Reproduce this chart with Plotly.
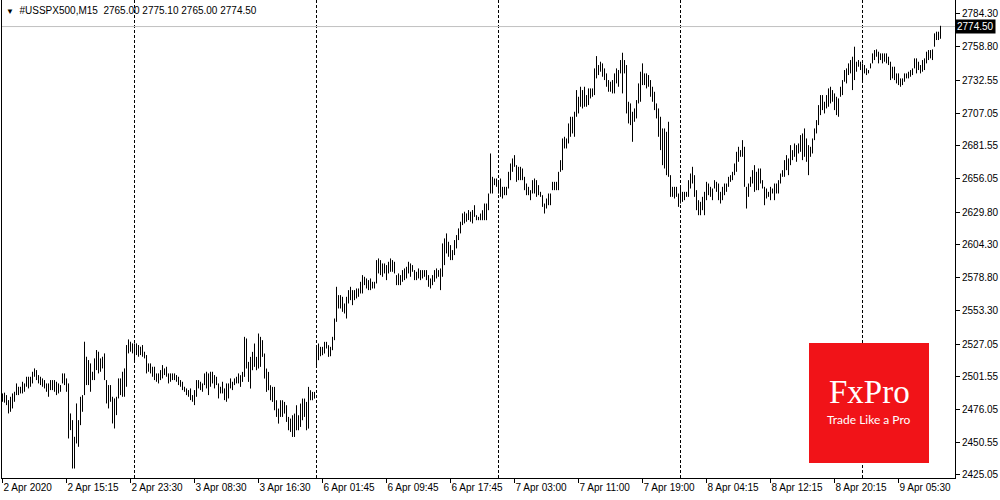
import plotly.graph_objects as go

# ---- data -------------------------------------------------------------
highs = [
    2488.6, 2489.2, 2487.3, 2483.4, 2486.0, 2488.6, 2489.9, 2496.4, 2493.8, 2493.8,
    2497.7, 2496.4, 2501.6, 2501.6, 2501.6, 2505.5, 2508.1, 2506.8, 2502.9, 2501.6,
    2500.3, 2499.0, 2496.4, 2496.4, 2499.0, 2499.0, 2499.0, 2497.7, 2496.4, 2495.1,
    2504.2, 2504.2, 2500.3, 2496.4, 2473.0, 2467.8, 2454.8, 2480.8, 2467.8, 2486.0,
    2487.3, 2528.9, 2517.2, 2514.6, 2512.0, 2505.5, 2515.9, 2522.4, 2521.1, 2515.9,
    2517.2, 2519.8, 2499.0, 2495.1, 2495.1, 2486.0, 2484.7, 2486.0, 2500.3, 2500.3,
    2505.5, 2508.1, 2526.3, 2530.7, 2528.9, 2527.6, 2527.6, 2527.6, 2526.3, 2525.0,
    2526.3, 2521.1, 2518.5, 2512.0, 2512.0, 2509.4, 2509.4, 2504.2, 2504.2, 2506.8,
    2510.7, 2508.1, 2509.4, 2504.2, 2504.2, 2504.2, 2504.2, 2502.9, 2501.6, 2499.0,
    2497.7, 2493.8, 2492.5, 2491.2, 2492.5, 2487.3, 2491.2, 2499.0, 2499.0, 2497.7,
    2496.4, 2504.2, 2505.5, 2504.2, 2505.5, 2505.5, 2502.9, 2501.6, 2496.4, 2493.8,
    2497.7, 2492.5, 2496.4, 2496.4, 2500.3, 2497.7, 2500.3, 2501.6, 2504.2, 2502.8,
    2505.4, 2532.7, 2531.4, 2513.2, 2517.1, 2521.0, 2527.5, 2517.1, 2535.3, 2532.7,
    2530.1, 2519.7, 2508.0, 2505.4, 2495.0, 2493.7, 2493.7, 2483.3, 2476.8, 2483.3,
    2483.3, 2482.0, 2479.4, 2470.3, 2469.0, 2471.6, 2472.9, 2479.4, 2471.6, 2480.7,
    2484.6, 2484.6, 2482.0, 2493.7, 2491.1, 2489.8, 2489.8, 2526.2, 2527.5, 2524.9,
    2524.9, 2528.8, 2528.8, 2526.2, 2524.9, 2532.7, 2547.0, 2571.7, 2565.2, 2565.2,
    2563.9, 2558.7, 2563.9, 2569.1, 2571.7, 2569.1, 2569.1, 2570.4, 2570.4, 2575.6,
    2580.8, 2579.5, 2578.2, 2576.9, 2578.2, 2575.6, 2575.6, 2592.5, 2593.8, 2592.5,
    2589.9, 2589.9, 2588.6, 2591.2, 2593.8, 2592.5, 2591.2, 2580.8, 2582.1, 2580.8,
    2584.7, 2586.0, 2587.3, 2591.2, 2589.9, 2588.6, 2584.7, 2583.4, 2586.0, 2584.7,
    2584.7, 2584.7, 2584.7, 2580.8, 2578.2, 2580.8, 2584.7, 2586.0, 2584.7, 2586.0,
    2605.5, 2609.4, 2613.3, 2606.8, 2604.2, 2600.3, 2608.1, 2612.0, 2617.2, 2622.4,
    2628.9, 2630.2, 2628.9, 2631.5, 2630.2, 2631.5, 2635.3, 2627.5, 2626.2, 2628.8,
    2631.4, 2636.6, 2636.6, 2644.4, 2675.6, 2657.4, 2656.1, 2656.1, 2653.5, 2656.1,
    2649.6, 2649.6, 2649.6, 2661.3, 2667.8, 2671.7, 2674.3, 2666.5, 2665.2, 2665.2,
    2663.9, 2657.4, 2652.2, 2649.6, 2647.0, 2654.8, 2656.1, 2654.8, 2650.9, 2645.7,
    2643.1, 2636.6, 2640.5, 2644.4, 2644.4, 2653.5, 2653.5, 2653.5, 2661.3, 2670.4,
    2687.3, 2688.6, 2687.3, 2699.0, 2704.2, 2704.2, 2708.1, 2725.0, 2719.8, 2727.6,
    2725.0, 2727.6, 2721.1, 2726.3, 2726.3, 2726.3, 2741.9, 2751.5, 2744.5, 2747.1,
    2745.8, 2741.9, 2738.0, 2732.8, 2731.5, 2732.8, 2738.0, 2741.9, 2740.6, 2748.4,
    2754.1, 2748.4, 2744.5, 2715.9, 2714.6, 2708.1, 2710.7, 2717.2, 2730.2, 2739.3,
    2745.8, 2738.0, 2738.0, 2736.7, 2732.8, 2727.6, 2723.7, 2714.6, 2710.7, 2704.2,
    2695.1, 2695.1, 2692.5, 2700.3, 2658.7, 2649.6, 2649.6, 2649.6, 2644.4, 2649.6,
    2645.7, 2645.7, 2645.7, 2654.8, 2660.0, 2665.2, 2658.7, 2647.0, 2639.2, 2637.9,
    2641.8, 2645.7, 2653.5, 2652.2, 2649.6, 2648.3, 2654.8, 2653.5, 2652.2, 2645.7,
    2649.6, 2652.2, 2652.2, 2657.4, 2658.7, 2661.3, 2667.8, 2676.9, 2680.8, 2678.2,
    2686.0, 2680.8, 2649.6, 2652.2, 2657.4, 2662.6, 2666.5, 2661.3, 2663.9, 2663.9,
    2654.8, 2649.6, 2648.3, 2645.7, 2649.6, 2648.3, 2652.2, 2652.2, 2654.8, 2660.0,
    2662.6, 2670.4, 2674.3, 2671.7, 2682.1, 2678.2, 2683.4, 2682.1, 2683.4, 2689.9,
    2691.2, 2695.1, 2687.3, 2682.1, 2680.8, 2687.3, 2695.1, 2701.6, 2713.3, 2721.1,
    2721.1, 2715.9, 2721.1, 2726.3, 2727.6, 2725.0, 2722.4, 2719.8, 2718.5, 2727.6,
    2732.8, 2740.6, 2741.9, 2745.8, 2748.4, 2751.0, 2758.8, 2747.1, 2748.4, 2747.1,
    2745.8, 2744.5, 2741.9, 2740.6, 2745.8, 2753.6, 2756.2, 2756.7, 2754.9, 2753.6,
    2753.6, 2753.6, 2753.6, 2751.0, 2747.1, 2743.2, 2743.2, 2738.0, 2738.0, 2734.1,
    2734.1, 2738.0, 2738.0, 2739.3, 2740.6, 2741.9, 2749.7, 2749.7, 2747.1, 2744.5,
    2748.4, 2749.7, 2754.9, 2756.2, 2756.2, 2756.7, 2769.2, 2770.5, 2770.5, 2775.1,
]

lows = [
    2482.1, 2481.4, 2479.5, 2473.0, 2474.3, 2476.9, 2482.1, 2487.3, 2487.3, 2488.6,
    2488.6, 2489.9, 2493.8, 2492.5, 2493.8, 2496.4, 2501.6, 2499.0, 2496.4, 2495.1,
    2493.8, 2492.5, 2489.9, 2486.0, 2491.2, 2491.2, 2489.9, 2487.3, 2488.6, 2489.9,
    2496.4, 2495.1, 2489.9, 2453.5, 2460.0, 2430.1, 2430.1, 2449.6, 2447.0, 2463.9,
    2474.3, 2487.3, 2495.1, 2495.1, 2489.9, 2499.0, 2499.0, 2506.8, 2504.2, 2505.5,
    2508.1, 2499.0, 2480.8, 2476.9, 2482.1, 2465.2, 2461.3, 2471.7, 2484.7, 2487.3,
    2486.0, 2486.0, 2493.8, 2519.8, 2521.1, 2519.8, 2514.6, 2518.5, 2517.2, 2518.5,
    2517.2, 2515.9, 2504.2, 2505.5, 2504.2, 2501.6, 2499.0, 2497.7, 2496.4, 2499.0,
    2500.3, 2502.9, 2501.6, 2496.4, 2497.7, 2499.0, 2499.0, 2497.7, 2495.1, 2493.8,
    2491.2, 2489.9, 2487.3, 2486.0, 2483.4, 2482.1, 2479.5, 2486.0, 2492.5, 2491.2,
    2489.9, 2495.1, 2492.5, 2487.3, 2493.8, 2496.4, 2492.5, 2495.1, 2484.7, 2488.6,
    2488.6, 2483.4, 2482.1, 2484.7, 2492.5, 2491.2, 2495.1, 2496.4, 2496.4, 2493.7,
    2497.6, 2501.5, 2508.0, 2497.6, 2492.4, 2506.7, 2509.3, 2506.7, 2508.0, 2509.3,
    2517.1, 2500.2, 2489.8, 2491.1, 2483.3, 2482.0, 2475.5, 2470.3, 2465.1, 2470.3,
    2470.3, 2472.9, 2466.4, 2459.9, 2458.6, 2454.7, 2454.7, 2459.9, 2459.9, 2462.5,
    2467.7, 2470.3, 2459.9, 2461.2, 2483.3, 2483.3, 2484.6, 2510.6, 2514.5, 2517.6,
    2518.4, 2519.7, 2523.6, 2517.1, 2517.6, 2522.3, 2530.1, 2544.4, 2554.8, 2554.8,
    2552.2, 2550.9, 2547.0, 2558.7, 2561.3, 2557.4, 2561.3, 2562.6, 2563.9, 2566.5,
    2566.5, 2573.0, 2570.4, 2569.1, 2569.1, 2570.4, 2570.4, 2574.3, 2582.1, 2580.8,
    2579.5, 2582.1, 2576.9, 2582.1, 2583.4, 2583.4, 2582.1, 2573.0, 2573.0, 2573.0,
    2575.6, 2576.9, 2578.2, 2582.1, 2579.5, 2583.4, 2576.9, 2576.9, 2578.2, 2576.9,
    2578.2, 2579.5, 2576.9, 2571.7, 2570.4, 2573.0, 2575.6, 2578.2, 2579.5, 2569.1,
    2579.5, 2588.6, 2597.7, 2595.1, 2592.5, 2592.5, 2596.4, 2601.6, 2608.1, 2613.3,
    2619.8, 2621.1, 2622.4, 2623.7, 2622.4, 2621.1, 2626.2, 2623.6, 2623.6, 2623.6,
    2623.6, 2623.6, 2623.6, 2631.4, 2644.4, 2644.4, 2650.9, 2649.6, 2644.4, 2641.8,
    2640.5, 2643.1, 2643.1, 2648.3, 2654.8, 2661.3, 2665.2, 2653.5, 2654.8, 2654.8,
    2654.8, 2647.0, 2643.1, 2643.1, 2639.2, 2644.4, 2644.4, 2641.8, 2643.1, 2641.8,
    2634.0, 2628.8, 2632.7, 2635.3, 2635.3, 2647.0, 2647.0, 2647.0, 2647.0, 2661.3,
    2662.6, 2679.5, 2679.5, 2683.4, 2688.6, 2691.2, 2688.6, 2704.2, 2706.8, 2712.0,
    2710.7, 2712.0, 2712.0, 2713.3, 2718.5, 2719.8, 2721.1, 2734.1, 2736.7, 2739.3,
    2735.4, 2732.8, 2727.6, 2723.7, 2723.7, 2722.4, 2722.4, 2730.2, 2727.6, 2738.0,
    2722.4, 2738.0, 2706.8, 2699.0, 2697.7, 2684.7, 2700.3, 2702.9, 2714.6, 2715.9,
    2728.9, 2728.9, 2726.3, 2727.6, 2719.8, 2715.9, 2709.4, 2702.9, 2688.6, 2678.2,
    2666.5, 2663.9, 2658.7, 2657.4, 2641.8, 2641.8, 2640.5, 2641.8, 2634.0, 2636.6,
    2637.9, 2639.2, 2641.8, 2641.8, 2648.3, 2652.2, 2641.8, 2631.4, 2627.5, 2627.5,
    2631.4, 2627.5, 2639.2, 2643.1, 2641.8, 2639.2, 2648.3, 2645.7, 2639.2, 2636.6,
    2639.2, 2643.1, 2645.7, 2649.6, 2653.5, 2654.8, 2658.7, 2661.3, 2669.1, 2673.0,
    2673.0, 2649.6, 2632.7, 2641.8, 2649.6, 2652.2, 2645.7, 2647.0, 2647.0, 2652.2,
    2648.3, 2635.3, 2640.5, 2641.8, 2639.2, 2644.4, 2639.2, 2644.4, 2644.4, 2652.2,
    2657.4, 2657.4, 2662.6, 2658.7, 2666.5, 2670.4, 2673.0, 2669.1, 2675.6, 2676.9,
    2670.4, 2673.0, 2669.1, 2658.7, 2673.0, 2675.6, 2686.0, 2691.2, 2697.7, 2705.5,
    2709.4, 2706.8, 2710.7, 2712.0, 2714.6, 2715.9, 2709.4, 2705.5, 2704.2, 2719.8,
    2721.1, 2731.5, 2730.2, 2736.7, 2738.0, 2725.0, 2732.8, 2739.3, 2743.2, 2740.6,
    2731.5, 2738.0, 2736.7, 2738.0, 2741.9, 2745.8, 2748.4, 2751.0, 2745.8, 2748.4,
    2745.8, 2747.1, 2745.8, 2744.5, 2732.8, 2734.1, 2732.8, 2730.2, 2728.9, 2727.6,
    2728.9, 2731.5, 2734.1, 2734.1, 2735.4, 2736.7, 2741.9, 2738.0, 2740.6, 2738.0,
    2739.3, 2740.6, 2745.8, 2748.4, 2749.7, 2748.4, 2758.8, 2764.0, 2764.0, 2765.0,
]

day_separators = [66, 157, 248, 339, 430]

x_tick_idx = [0, 32, 64, 96, 128, 160, 192, 224, 256, 288, 320, 352, 384, 416, 448]
x_tick_labels = ["2 Apr 2020", "2 Apr 15:15", "2 Apr 23:30", "3 Apr 08:30", "3 Apr 16:30",
                 "6 Apr 01:45", "6 Apr 09:45", "6 Apr 17:45", "7 Apr 03:00", "7 Apr 11:00",
                 "7 Apr 19:00", "8 Apr 04:15", "8 Apr 12:15", "8 Apr 20:15", "9 Apr 05:30"]

y_tick_vals = [2784.30, 2758.80, 2732.55, 2707.05, 2681.55, 2656.05, 2629.80, 2604.30,
               2578.80, 2553.30, 2527.05, 2501.55, 2476.05, 2450.55, 2425.05]

symbol = "#USSPX500,M15"
last_open, last_high, last_low, last_close = 2765.00, 2775.10, 2765.00, 2774.50

# ---- figure -------------------------------------------------------------
FONT = "Tahoma, 'Liberation Sans', Arial, sans-serif"

xs, ys = [], []
for i, (h, l) in enumerate(zip(highs, lows)):
    xs += [i, i, None]
    ys += [l, h, None]

fig = go.Figure()
fig.add_trace(go.Scatter(x=xs, y=ys, mode="lines",
                         line=dict(color="black", width=1),
                         hoverinfo="skip", showlegend=False))

shapes = []
for d in day_separators:
    shapes.append(dict(type="line", xref="x", yref="paper", x0=d, x1=d, y0=0, y1=1,
                       line=dict(color="black", width=1, dash="3px,2px"), layer="below"))
# current price line
shapes.append(dict(type="line", xref="paper", yref="y", x0=0, x1=1,
                   y0=last_close, y1=last_close,
                   line=dict(color="#c0c0c0", width=1), layer="below"))
# FxPro logo box (pixel placement in paper coords)
W, H = 953.0, 478.0
shapes.append(dict(type="rect", xref="paper", yref="paper",
                   x0=(809 - 2) / W, x1=(929 - 2) / W,
                   y0=(478 - 463) / H, y1=(478 - 343) / H,
                   fillcolor="#f11318", line=dict(width=0), layer="above"))

annotations = [
    dict(xref="paper", yref="y", x=1, y=last_close, xanchor="left", yanchor="middle",
         text=f"{last_close:.2f}", showarrow=False, bgcolor="black", borderpad=1,
         font=dict(family=FONT, size=10, color="white")),
    dict(xref="paper", yref="paper", x=0, y=1, xanchor="left", yanchor="top",
         xshift=2, yshift=-3, showarrow=False,
         text=f"<span style='font-size:8px'>▼</span>  {symbol}  {last_open:.2f} {last_high:.2f} {last_low:.2f} {last_close:.2f}",
         font=dict(family=FONT, size=10, color="black")),
    dict(xref="paper", yref="paper", x=(869 - 2) / W, y=(478 - 411) / H,
         xanchor="center", yanchor="bottom", showarrow=False, text="FxPro",
         borderpad=0,
         font=dict(family="'Liberation Serif', serif", size=33, color="white")),
    dict(xref="paper", yref="paper", x=(869 - 2) / W, y=(478 - 411) / H,
         xanchor="center", yanchor="top", showarrow=False, text="Trade Like a Pro",
         borderpad=0,
         font=dict(family="Lato, 'Open Sans', sans-serif", size=12, color="white")),
]

fig.update_layout(
    width=1000, height=500,
    margin=dict(l=2, r=45, t=0, b=22),
    paper_bgcolor="white", plot_bgcolor="white",
    showlegend=False,
    shapes=shapes, annotations=annotations,
    font=dict(family=FONT, size=10, color="black"),
    xaxis=dict(range=[-0.25, 476.25], showgrid=False, zeroline=False,
               tickmode="array", tickvals=x_tick_idx, ticktext=x_tick_labels,
               ticks="outside", ticklen=4, tickcolor="black",
               ticklabelposition="outside right",
               showline=True, linecolor="black", linewidth=1,
               tickfont=dict(family=FONT, size=10, color="black")),
    yaxis=dict(range=[2422.7, 2795.2], side="right", showgrid=False, zeroline=False,
               tickmode="array", tickvals=y_tick_vals,
               ticktext=[f"{v:.2f}" for v in y_tick_vals],
               ticks="outside", ticklen=4, tickcolor="black",
               showline=True, mirror=True, linecolor="black", linewidth=1,
               tickfont=dict(family=FONT, size=10, color="black")),
)

fig.write_html("out.html",
               config={"displayModeBar": False, "staticPlot": True},
               post_script="document.body.style.margin='0';document.body.style.overflow='hidden';")
